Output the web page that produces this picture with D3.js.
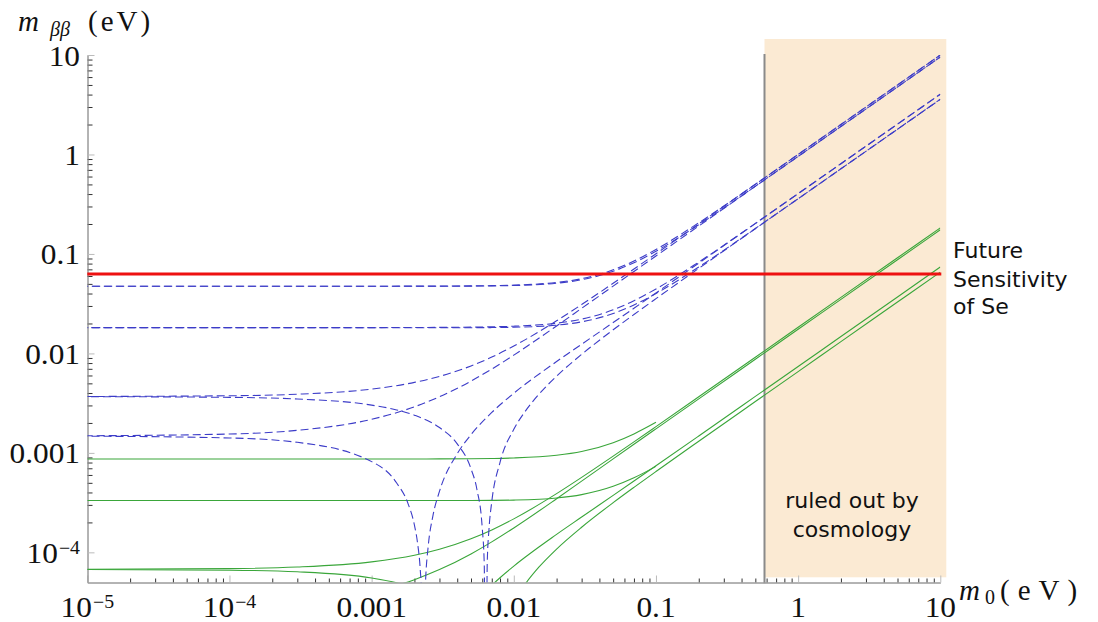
<!DOCTYPE html>
<html>
<head>
<meta charset="utf-8">
<script src="https://cdn.jsdelivr.net/npm/d3@7/dist/d3.min.js"></script>
<style>
  body { margin: 0; background: #fff; }
  svg { display: block; }
  .tick-label { font-family: "Liberation Serif", "Times New Roman", serif; font-size: 28.5px; fill: #111; }
  .axis-title { font-family: "Liberation Serif", "Times New Roman", serif; fill: #111; }
  .note { font-family: "DejaVu Sans", sans-serif; font-size: 22px; fill: #111; }
</style>
</head>
<body>
<svg id="chart" width="1098" height="622"></svg>
<script>
'use strict';

// lightest neutrino mass m0 (eV), common grid
var m0Grid = [1e-5, 1e-4, 3e-4, 1e-3, 2e-3, 3e-3, 5e-3, 7e-3, 0.01, 0.02, 0.03, 0.05, 0.07, 0.1, 0.2, 0.5, 1, 2, 5, 10];

// blue dashed: normal ordering branches
var nhA = [0.003691, 0.003752, 0.003889, 0.004381, 0.005112, 0.005875, 0.007486, 0.009189, 0.01186, 0.02128, 0.03098, 0.05067, 0.07051, 0.1004, 0.2002, 0.5001, 1.0, 2.0, 5.0, 10.0];
var nhB = [0.001486, 0.001547, 0.001685, 0.002176, 0.002905, 0.003666, 0.00527, 0.006962, 0.009613, 0.01889, 0.0284, 0.04752, 0.06666, 0.09536, 0.1909, 0.4775, 0.955, 1.91, 4.775, 9.55];
// the two cancelling branches have their own m0 points around the dips
var m0DipC = [1e-5, 1e-4, 3e-4, 1e-3, 1.5e-3, 1.8e-3, 2e-3, 2.1e-3, 2.2e-3, 2.25e-3, 2.309e-3, 2.35e-3, 2.4e-3, 2.5e-3, 2.7e-3, 3e-3, 4e-3, 5e-3, 7e-3, 0.01, 0.02, 0.03, 0.05, 0.07, 0.1, 0.2, 0.5, 1, 2, 5, 10];
var nhC = [0.001472, 0.001412, 0.001277, 0.000817, 0.000498, 0.000311, 0.0001875, 0.0001264, 0.0000656, 0.0000353, 1e-7, 0.000025, 0.0000551, 0.0001151, 0.000234, 0.00041, 0.00098, 0.001524, 0.00255, 0.003975, 0.008282, 0.01237, 0.02042, 0.02845, 0.04052, 0.08084, 0.2019, 0.4038, 0.8077, 2.019, 4.038];
var m0DipD = [1e-5, 1e-4, 3e-4, 1e-3, 1.5e-3, 2e-3, 3e-3, 4e-3, 5e-3, 5.5e-3, 6e-3, 6.2e-3, 6.347e-3, 6.5e-3, 6.7e-3, 7e-3, 8e-3, 0.01, 0.012, 0.015, 0.02, 0.03, 0.05, 0.07, 0.1, 0.2, 0.5, 1, 2, 5, 10];
var nhD = [0.003677, 0.003616, 0.003482, 0.003022, 0.002704, 0.002394, 0.001798, 0.001232, 0.000692, 0.000431, 0.000175, 0.0000738, 1e-7, 0.0000763, 0.0001755, 0.000323, 0.000804, 0.001725, 0.002606, 0.003875, 0.005901, 0.009781, 0.01727, 0.02461, 0.03551, 0.07157, 0.1793, 0.3588, 0.7176, 1.794, 3.588];

// blue dashed: inverted ordering branches (on m0Grid)
var ihA = [0.04736, 0.04737, 0.04737, 0.0474, 0.04745, 0.04752, 0.04773, 0.04801, 0.04859, 0.05169, 0.05638, 0.06919, 0.08479, 0.1109, 0.2057, 0.5023, 1.001, 2.001, 5.0, 10.0];
var ihB = [0.04736, 0.04736, 0.04736, 0.04735, 0.04736, 0.04739, 0.0475, 0.0477, 0.04814, 0.05079, 0.05503, 0.06694, 0.08164, 0.1064, 0.1967, 0.4798, 0.9562, 1.911, 4.775, 9.55];
var ihC = [0.01816, 0.01816, 0.01816, 0.01818, 0.01822, 0.01826, 0.01837, 0.01851, 0.01878, 0.02014, 0.02213, 0.02745, 0.03385, 0.04448, 0.08289, 0.2028, 0.4042, 0.808, 2.019, 4.038];
var ihD = [0.01816, 0.01815, 0.01815, 0.01814, 0.01813, 0.01813, 0.01814, 0.01819, 0.01833, 0.01924, 0.02078, 0.0252, 0.0307, 0.03998, 0.07389, 0.1803, 0.3592, 0.718, 1.794, 3.588];

// green solid curves
var gNhA = [6.755e-5, 6.866e-5, 7.117e-5, 8.017e-5, 9.355e-5, 1.075e-4, 1.37e-4, 1.682e-4, 2.171e-4, 3.893e-4, 5.67e-4, 9.273e-4, 1.29e-3, 1.837e-3, 3.664e-3, 9.151e-3, 0.0183, 0.0366, 0.0915, 0.183];
var gNhB = [2.719e-5, 2.831e-5, 3.084e-5, 3.982e-5, 5.316e-5, 6.709e-5, 9.644e-5, 1.274e-4, 1.759e-4, 3.458e-4, 5.197e-4, 8.697e-4, 1.22e-3, 1.745e-3, 3.494e-3, 8.738e-3, 0.01748, 0.03495, 0.08738, 0.1748];
var gM0C = [5e-3, 7e-3, 8e-3, 0.01, 0.02, 0.03, 0.05, 0.07, 0.1, 0.2, 0.5, 1, 2, 5, 10];
var gNhC = [2.789e-5, 4.667e-5, 5.559e-5, 7.274e-5, 1.516e-4, 2.263e-4, 3.737e-4, 5.207e-4, 7.416e-4, 1.479e-3, 3.695e-3, 7.39e-3, 0.01478, 0.03695, 0.0739];
var gM0D = [1e-5, 1e-4, 3e-4, 1e-3, 1.5e-3, 2e-3, 3e-3, 5e-3, 0.01, 0.012, 0.015, 0.02, 0.03, 0.05, 0.07, 0.1, 0.2, 0.5, 1, 2, 5, 10];
var gNhD = [6.729e-5, 6.617e-5, 6.372e-5, 5.53e-5, 4.948e-5, 4.381e-5, 3.29e-5, 1.266e-5, 3.157e-5, 4.769e-5, 7.091e-5, 1.08e-4, 1.79e-4, 3.16e-4, 4.503e-4, 6.499e-4, 1.31e-3, 3.282e-3, 6.566e-3, 0.01313, 0.03283, 0.06566];
// these two stop at m0 = 0.1
var gIhA = [8.668e-4, 8.668e-4, 8.669e-4, 8.674e-4, 8.683e-4, 8.697e-4, 8.734e-4, 8.786e-4, 8.891e-4, 9.459e-4, 1.032e-3, 1.266e-3, 1.552e-3, 2.029e-3];
var gIhD = [3.323e-4, 3.322e-4, 3.321e-4, 3.319e-4, 3.317e-4, 3.317e-4, 3.32e-4, 3.329e-4, 3.354e-4, 3.521e-4, 3.803e-4, 4.612e-4, 5.619e-4, 7.317e-4];

// future sensitivity and cosmology bound
var seSensitivity = 0.063;
var cosmoBound = 0.58;

// tick labels
var xTickVals = [1e-5, 1e-4, 1e-3, 0.01, 0.1, 1, 10];
var xTickText = [['10', '\u22125'], ['10', '\u22124'], ['0.001'], ['0.01'], ['0.1'], ['1'], ['10']];
var yTickVals = [1e-4, 1e-3, 0.01, 0.1, 1, 10];
var yTickText = [['10', '\u22124'], ['0.001'], ['0.01'], ['0.1'], ['1'], ['10']];

var svg = d3.select('#chart');
var x = d3.scaleLog().domain([1e-5, 10]).range([87.3, 940.3]);
var y = d3.scaleLog().domain([5e-5, 10]).range([582.3, 55]);

svg.append('defs').append('clipPath').attr('id', 'plotclip')
  .append('rect')
  .attr('x', x(1e-5)).attr('y', y(10))
  .attr('width', x(10) - x(1e-5)).attr('height', y(5e-5) - y(10));

// excluded region
svg.append('rect')
  .attr('x', x(cosmoBound)).attr('y', 39)
  .attr('width', x(10) + 6 - x(cosmoBound))
  .attr('height', y(5e-5) - 5 - 39)
  .attr('fill', '#fbead3');

svg.append('line')
  .attr('x1', x(cosmoBound)).attr('x2', x(cosmoBound))
  .attr('y1', y(10) - 1).attr('y2', y(5e-5) + 1)
  .attr('stroke', '#8a8a8a').attr('stroke-width', 2);

// axes
var xMinor = [], yMinor = [];
for (var d = -5; d <= 0; d++) {
  for (var k = 2; k <= 9; k++) {
    xMinor.push(k * Math.pow(10, d));
    if (d >= -4) yMinor.push(k * Math.pow(10, d));
  }
}

function styleAxis(g, col) {
  g.select('.domain').attr('stroke', '#9a9a9a');
  g.selectAll('.tick line').attr('stroke', col);
  g.selectAll('.tick text').remove();
}

svg.append('g').attr('transform', 'translate(0,582.5)')
  .call(d3.axisBottom(x).tickValues(xMinor).tickSize(-4).tickSizeOuter(0))
  .call(styleAxis, '#333');
svg.append('g').attr('transform', 'translate(0,582.5)')
  .call(d3.axisBottom(x).tickValues(xTickVals).tickSize(-7).tickSizeOuter(0))
  .call(styleAxis, '#bbb');
svg.append('g').attr('transform', 'translate(87.5,0)')
  .call(d3.axisLeft(y).tickValues(yMinor).tickSize(-5).tickSizeOuter(0))
  .call(styleAxis, '#333');
svg.append('g').attr('transform', 'translate(87.5,0)')
  .call(d3.axisLeft(y).tickValues(yTickVals).tickSize(-7).tickSizeOuter(0))
  .call(styleAxis, '#bbb');

// labels are a little wider than the plain font, so stretch them sideways
function addLabel(px, py, parts, anchor) {
  var t = svg.append('g').attr('transform', 'translate(' + px + ',' + py + ') scale(1.1,1)')
    .append('text').attr('class', 'tick-label').attr('text-anchor', anchor);
  t.append('tspan').text(parts[0]);
  if (parts[1]) {
    t.append('tspan').attr('dx', 1).attr('dy', -9).attr('font-size', 18).text(parts[1]);
  }
}
xTickVals.forEach(function (v, i) { addLabel(x(v), 617, xTickText[i], 'middle'); });
yTickVals.forEach(function (v, i) { addLabel(80, y(v) + 10.5, yTickText[i], 'end'); });

// axis titles
var yt = svg.append('text').attr('class', 'axis-title').attr('x', 18).attr('y', 31).attr('font-size', 29);
yt.append('tspan').attr('font-style', 'italic').text('m');
yt.append('tspan').attr('x', 50).attr('dy', 5).attr('font-style', 'italic').attr('font-size', 20).text('\u03b2\u03b2');
yt.append('tspan').attr('x', 88).attr('dy', -5).attr('letter-spacing', 3).text('(eV)');

var xt = svg.append('text').attr('class', 'axis-title').attr('x', 959).attr('y', 600).attr('font-size', 29);
xt.append('tspan').attr('font-style', 'italic').text('m');
xt.append('tspan').attr('x', 985).attr('dy', 4).attr('font-size', 20).text('0');
xt.append('tspan').attr('x', 1000).attr('dy', -4).attr('letter-spacing', 8).text('(eV)');

// curves
var line = d3.line()
  .x(function (p) { return x(p[0]); })
  .y(function (p) { return y(p[1]); })
  .curve(d3.curveMonotoneX);

var plot = svg.append('g').attr('clip-path', 'url(#plotclip)');

var greens = [
  [m0Grid.slice(0, 14), gIhA], [m0Grid.slice(0, 14), gIhD],
  [m0Grid, gNhA], [m0Grid, gNhB], [gM0C, gNhC], [gM0D, gNhD]
];
greens.forEach(function (s) {
  plot.append('path').datum(d3.zip(s[0], s[1]))
    .attr('d', line).attr('fill', 'none')
    .attr('stroke', '#3aa63a').attr('stroke-width', 1.1);
});

// dashes start from the heavy end (m0 = 10) so coinciding branches line up there
var blues = [
  [m0Grid, ihA], [m0Grid, ihB], [m0Grid, ihC], [m0Grid, ihD],
  [m0Grid, nhA], [m0Grid, nhB], [m0DipC, nhC], [m0DipD, nhD]
];
var lineR = d3.line()
  .x(function (p) { return x(p[0]); })
  .y(function (p) { return y(p[1]); })
  .curve(d3.curveMonotoneX);
blues.forEach(function (s) {
  var pts = d3.zip(s[0], s[1]);
  var p = plot.append('path').datum(pts)
    .attr('d', lineR).attr('fill', 'none')
    .attr('stroke', '#3c3cc8').attr('stroke-width', 1.1)
    .attr('stroke-dasharray', '8,4');
  var len = p.node().getTotalLength();
  p.attr('stroke-dashoffset', -((12 - (len % 12)) % 12));
});

svg.append('line')
  .attr('x1', x(1e-5)).attr('x2', x(10) + 1)
  .attr('y1', y(seSensitivity)).attr('y2', y(seSensitivity))
  .attr('stroke', '#ee1111').attr('stroke-width', 3);

// annotations
var notes = [['Future', 258], ['Sensitivity', 287], ['of Se', 314]];
notes.forEach(function (n) {
  svg.append('text').attr('class', 'note').attr('x', 953).attr('y', n[1]).text(n[0]);
});
[['ruled out by', 508], ['cosmology', 537]].forEach(function (n) {
  svg.append('text').attr('class', 'note').attr('x', 852).attr('y', n[1])
    .attr('text-anchor', 'middle').text(n[0]);
});
</script>
</body>
</html>
